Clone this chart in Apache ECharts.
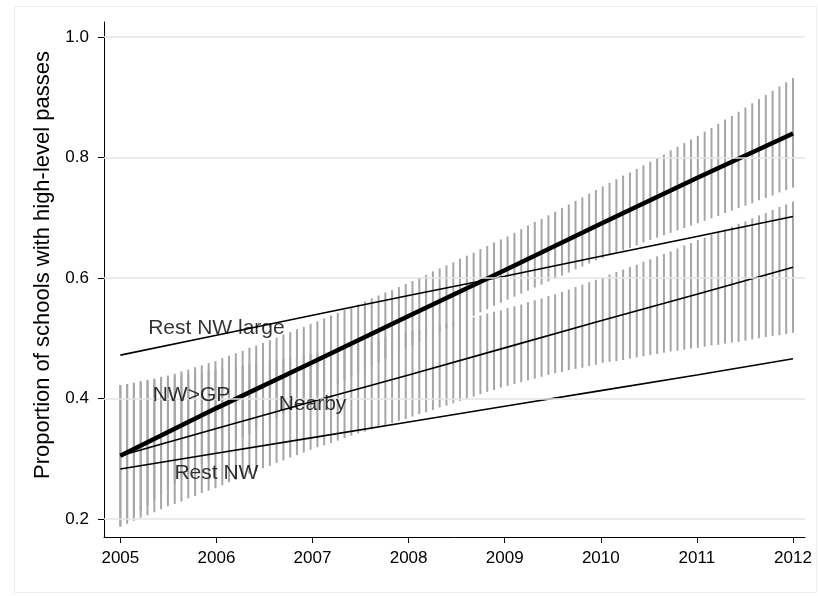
<!DOCTYPE html>
<html>
<head>
<meta charset="utf-8">
<script src="https://cdn.jsdelivr.net/npm/echarts@6/dist/echarts.min.js"></script>
<style>
html,body{margin:0;padding:0;background:#fff;}
#chart{width:818px;height:596px;}
</style>
</head>
<body>
<div id="chart"></div>
<script>
// ---- Data ----
const yearTicks = [2005, 2006, 2007, 2008, 2009, 2010, 2011, 2012];
const yTicks = [0.2, 0.4, 0.6, 0.8, 1.0];
const yTitle = 'Proportion of schools with high-level passes';

// fitted lines (value at each year)
const nwgpLine   = [0.305, 0.384, 0.460, 0.537, 0.613, 0.690, 0.766, 0.840];
const nearbyLine = [0.305, 0.350, 0.395, 0.439, 0.484, 0.529, 0.573, 0.618];
const restLargeLine = [0.472, 0.505, 0.538, 0.571, 0.603, 0.636, 0.669, 0.702];
const restNWLine = [0.283, 0.309, 0.335, 0.361, 0.387, 0.413, 0.439, 0.466];

// positions of the confidence-interval spikes
const ciYears = [2005.000,2005.071,2005.141,2005.212,2005.283,2005.354,2005.424,2005.495,2005.566,2005.636,
2005.707,2005.778,2005.848,2005.919,2005.990,2006.061,2006.131,2006.202,2006.273,2006.343,
2006.414,2006.485,2006.556,2006.626,2006.697,2006.768,2006.838,2006.909,2006.980,2007.051,
2007.121,2007.192,2007.263,2007.333,2007.404,2007.475,2007.545,2007.616,2007.687,2007.758,
2007.828,2007.899,2007.970,2008.040,2008.111,2008.182,2008.253,2008.323,2008.394,2008.465,
2008.535,2008.606,2008.677,2008.747,2008.818,2008.889,2008.960,2009.030,2009.101,2009.172,
2009.242,2009.313,2009.384,2009.455,2009.525,2009.596,2009.667,2009.737,2009.808,2009.879,
2009.949,2010.020,2010.091,2010.162,2010.232,2010.303,2010.374,2010.444,2010.515,2010.586,
2010.657,2010.727,2010.798,2010.869,2010.939,2011.010,2011.081,2011.152,2011.222,2011.293,
2011.364,2011.434,2011.505,2011.576,2011.646,2011.717,2011.788,2011.859,2011.929,2012.000];

// NW>GP confidence interval
const nwgpHigh = [0.422,0.424,0.426,0.429,0.431,0.433,0.436,0.438,0.441,0.445,
0.448,0.452,0.455,0.459,0.462,0.467,0.471,0.475,0.479,0.484,
0.488,0.492,0.497,0.501,0.506,0.510,0.515,0.519,0.524,0.528,
0.533,0.538,0.542,0.547,0.552,0.556,0.561,0.566,0.571,0.576,
0.580,0.585,0.590,0.595,0.600,0.605,0.611,0.616,0.621,0.626,
0.632,0.637,0.642,0.648,0.653,0.659,0.664,0.669,0.675,0.681,
0.687,0.693,0.698,0.704,0.710,0.716,0.722,0.728,0.734,0.740,
0.746,0.752,0.758,0.764,0.770,0.775,0.781,0.787,0.793,0.799,
0.805,0.812,0.818,0.824,0.830,0.836,0.843,0.849,0.856,0.863,
0.869,0.876,0.883,0.890,0.897,0.904,0.911,0.918,0.925,0.932];
const nwgpLow = [0.188,0.197,0.206,0.214,0.223,0.232,0.241,0.249,0.258,0.266,
0.274,0.283,0.291,0.299,0.308,0.315,0.321,0.328,0.335,0.341,
0.348,0.355,0.361,0.367,0.374,0.380,0.386,0.393,0.399,0.405,
0.411,0.417,0.424,0.430,0.436,0.442,0.448,0.454,0.460,0.466,
0.472,0.477,0.484,0.489,0.494,0.500,0.505,0.511,0.516,0.521,
0.527,0.532,0.537,0.543,0.548,0.554,0.559,0.564,0.569,0.574,
0.579,0.584,0.589,0.594,0.599,0.604,0.609,0.614,0.619,0.624,
0.629,0.633,0.638,0.642,0.646,0.650,0.654,0.659,0.663,0.667,
0.671,0.675,0.679,0.683,0.687,0.691,0.695,0.699,0.703,0.708,
0.712,0.716,0.720,0.724,0.729,0.733,0.737,0.742,0.746,0.750];

// Nearby confidence interval
const nearbyHigh = [0.422,0.424,0.426,0.427,0.429,0.431,0.432,0.434,0.436,0.438,
0.440,0.442,0.444,0.446,0.448,0.450,0.451,0.453,0.455,0.457,
0.459,0.461,0.462,0.464,0.466,0.468,0.470,0.472,0.474,0.476,
0.478,0.480,0.483,0.485,0.488,0.490,0.493,0.495,0.498,0.501,
0.504,0.506,0.509,0.512,0.514,0.516,0.519,0.522,0.524,0.527,
0.529,0.532,0.535,0.538,0.541,0.544,0.546,0.550,0.553,0.556,
0.560,0.563,0.566,0.570,0.573,0.577,0.581,0.585,0.589,0.593,
0.597,0.601,0.606,0.610,0.614,0.618,0.622,0.627,0.631,0.636,
0.640,0.644,0.649,0.654,0.658,0.663,0.667,0.672,0.676,0.681,
0.685,0.690,0.694,0.699,0.704,0.708,0.713,0.718,0.722,0.727];
const nearbyLow = [0.187,0.192,0.197,0.202,0.206,0.211,0.216,0.221,0.225,0.229,
0.234,0.238,0.243,0.247,0.251,0.256,0.261,0.265,0.270,0.275,
0.279,0.284,0.288,0.293,0.297,0.302,0.306,0.310,0.315,0.319,
0.322,0.326,0.330,0.334,0.338,0.342,0.345,0.349,0.352,0.356,
0.359,0.363,0.366,0.370,0.374,0.377,0.381,0.385,0.388,0.392,
0.396,0.399,0.403,0.407,0.411,0.414,0.418,0.421,0.424,0.427,
0.430,0.433,0.436,0.439,0.442,0.444,0.447,0.449,0.451,0.454,
0.456,0.459,0.461,0.462,0.464,0.466,0.468,0.470,0.472,0.474,
0.476,0.478,0.479,0.481,0.483,0.484,0.486,0.488,0.489,0.491,
0.493,0.494,0.496,0.498,0.500,0.502,0.504,0.505,0.507,0.509];

// in-plot line labels: text, year, value
const labelNames = ['Rest NW large', 'NW>GP', 'Nearby', 'Rest NW'];
const labelX = [2006.00, 2005.74, 2007.00, 2006.00];
const labelY = [0.516, 0.406, 0.391, 0.276];

// ---- Build chart ----
const FONT = '"Liberation Sans", Arial, Helvetica, sans-serif';
const chart = echarts.init(document.getElementById('chart'), null, {renderer: 'canvas'});

function pairs(xs, ys) { return xs.map((x, i) => [x, ys[i]]); }
function ciData(lo, hi) { return ciYears.map((x, i) => [x, lo[i], hi[i]]); }

function spikeRender(params, api) {
  const x = api.value(0);
  const p1 = api.coord([x, api.value(1)]);
  const p2 = api.coord([x, api.value(2)]);
  return {
    type: 'line',
    shape: {x1: p1[0], y1: p1[1], x2: p2[0], y2: p2[1]},
    style: {stroke: '#a6a6a6', lineWidth: 2}
  };
}

const lineStyleBase = {color: '#000', width: 1.6};

chart.setOption({
  animation: false,
  backgroundColor: '#fff',
  textStyle: {fontFamily: FONT},
  graphic: [{
    type: 'rect', left: 12, top: 4, shape: {width: 802, height: 586},
    style: {fill: 'none', stroke: '#efefef', lineWidth: 1}, silent: true, z: -10
  }, {
    type: 'text', x: 43, y: 265, rotation: Math.PI / 2, silent: true,
    style: {text: yTitle, fill: '#000', font: '22px ' + FONT, align: 'center', verticalAlign: 'middle'}
  }],
  grid: {left: 104, right: 13, top: 22, bottom: 59, containLabel: false},
  xAxis: {
    type: 'value', min: 2004.83, max: 2012.125,
    axisLine: {show: true, lineStyle: {color: '#000', width: 1}},
    axisTick: {show: true, customValues: yearTicks, length: 6, lineStyle: {color: '#000', width: 1}},
    axisLabel: {customValues: yearTicks, formatter: v => String(Math.round(v)), color: '#000', fontSize: 17, margin: 13, fontFamily: FONT},
    splitLine: {show: false}
  },
  yAxis: {
    type: 'value', min: 0.17, max: 1.025,
    axisLine: {show: true, lineStyle: {color: '#000', width: 1}},
    axisTick: {show: true, customValues: yTicks, length: 6, lineStyle: {color: '#000', width: 1}},
    axisLabel: {customValues: yTicks, formatter: v => v.toFixed(1), color: '#000', fontSize: 17, margin: 15, fontFamily: FONT},
    splitLine: {show: false}
  },
  series: [
    {
      type: 'line', data: [], silent: true,
      markLine: {
        silent: true, symbol: ['none', 'none'], label: {show: false},
        lineStyle: {color: '#e4e4e4', width: 1.5, type: 'solid'},
        data: yTicks.map(v => ({yAxis: v}))
      },
      z: 1
    },
    {type: 'custom', renderItem: spikeRender, data: ciData(nwgpLow, nwgpHigh), encode: {x: 0, y: [1, 2]}, z: 2, silent: true},
    {type: 'custom', renderItem: spikeRender, data: ciData(nearbyLow, nearbyHigh), encode: {x: 0, y: [1, 2]}, z: 2, silent: true},
    {type: 'line', data: pairs(yearTicks, restLargeLine), symbol: 'none', lineStyle: lineStyleBase, z: 3},
    {type: 'line', data: pairs(yearTicks, restNWLine), symbol: 'none', lineStyle: lineStyleBase, z: 3},
    {type: 'line', data: pairs(yearTicks, nearbyLine), symbol: 'none', lineStyle: lineStyleBase, z: 3},
    {type: 'line', data: pairs(yearTicks, nwgpLine), symbol: 'none', lineStyle: {color: '#000', width: 4.5}, z: 4},
    {
      type: 'scatter', symbolSize: 0, z: 5, silent: true,
      data: labelNames.map((n, i) => [labelX[i], labelY[i], n]),
      label: {show: true, position: 'inside', formatter: p => p.value[2], color: '#000', fontSize: 21, fontFamily: FONT}
    }
  ]
});
</script>
</body>
</html>
